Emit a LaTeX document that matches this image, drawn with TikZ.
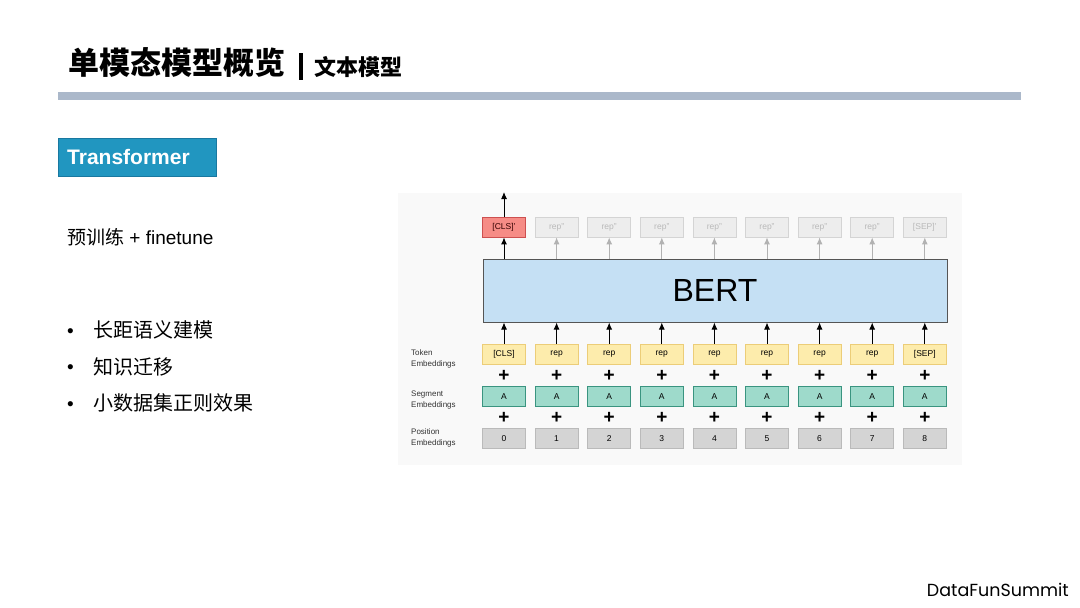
\documentclass[tikz,border=0pt]{standalone}
\usepackage{fontspec}
\setmainfont{Liberation Sans}
\newfontfamily\cjk{Noto Sans CJK SC}
\newfontfamily\brand{Poppins}
\usetikzlibrary{arrows.meta,positioning}

\definecolor{barblue}{RGB}{171,184,202}
\definecolor{tagblue}{RGB}{33,150,192}
\definecolor{tagline}{RGB}{25,120,160}
\definecolor{figback}{RGB}{249,249,249}
\definecolor{tokfill}{RGB}{253,236,172}
\definecolor{tokline}{RGB}{236,205,120}
\definecolor{segfill}{RGB}{158,218,203}
\definecolor{segline}{RGB}{58,148,128}
\definecolor{posfill}{RGB}{212,212,212}
\definecolor{posline}{RGB}{186,186,186}
\definecolor{bertfill}{RGB}{197,224,244}
\definecolor{bertline}{RGB}{85,85,85}
\definecolor{clsfill}{RGB}{246,140,134}
\definecolor{clsline}{RGB}{205,80,80}
\definecolor{repfill}{RGB}{237,237,237}
\definecolor{repline}{RGB}{212,212,212}
\definecolor{reptext}{RGB}{185,185,185}

\tikzset{
  embbox/.style={minimum width=43pt, minimum height=20pt, inner sep=0pt,
    line width=0.8pt, font=\fontsize{8.5}{8.5}\selectfont},
  tokbox/.style={embbox, draw=tokline, fill=tokfill},
  segbox/.style={embbox, draw=segline, fill=segfill},
  posbox/.style={embbox, draw=posline, fill=posfill},
  repbox/.style={embbox, draw=repline, fill=repfill, text=reptext},
  clsbox/.style={embbox, draw=clsline, fill=clsfill, text=black!80!red},
  plussign/.style={inner sep=0pt, font=\bfseries\fontsize{19}{19}\selectfont},
  rowlabel/.style={anchor=west, align=left, inner sep=0pt,
    font=\fontsize{8}{11}\selectfont, text=black!80},
  uparrow/.style={-{Latex[length=7pt,width=6pt]}, line width=1pt},
  greyarrow/.style={uparrow, draw=black!30},
  bodytext/.style={anchor=west, inner sep=0pt, font=\fontsize{19}{19}\selectfont}
}

\begin{document}
\begin{tikzpicture}[x=1pt, y=-1pt]
\useasboundingbox (0,0) rectangle (1080,608);
\fill[white] (0,0) rectangle (1080,608);

% Header
\node[anchor=west, inner sep=0pt, font=\cjk\bfseries\fontsize{31}{31}\selectfont] (title) at (68,63) {单模态模型概览};
\fill[black] (298.5,53) rectangle (302.5,80);
\node[anchor=west, inner sep=0pt, font=\cjk\bfseries\fontsize{22}{22}\selectfont] (subtitle) at (314,66.5) {文本模型};
\fill[barblue] (58,92) rectangle (1021,100);

% Tag
\node[anchor=north west, minimum width=158pt, minimum height=38pt, inner sep=0pt,
  fill=tagblue, draw=tagline, line width=0.6pt] (tag) at (58,138) {};
\node[anchor=west, inner sep=0pt, text=white, font=\bfseries\fontsize{21}{21}\selectfont] (tagtext) at (67,157) {Transformer};

% Left text
\node[bodytext] (pretrain) at (67,237) {{\cjk 预训练} + finetune};
\foreach \txt [count=\k from 0] in {长距语义建模, 知识迁移, 小数据集正则效果} {
  \node[bodytext] (dot\k) at (67,333+36.5*\k) {\textbullet};
  \node[bodytext, font=\cjk\fontsize{20}{20}\selectfont] (item\k) at (93,330+36.5*\k) {\txt};
}

% BERT figure
\fill[figback] (398,193) rectangle (962,465);
\node[minimum width=464pt, minimum height=63pt, inner sep=0pt, fill=bertfill,
  draw=bertline, line width=1pt, font=\fontsize{32}{32}\selectfont] (bert) at (715,290.5) {BERT};

\node[rowlabel] (toklabel) at (411,358.5) {Token\\Embeddings};
\node[rowlabel] (seglabel) at (411,400.5) {Segment\\Embeddings};
\node[rowlabel] (poslabel) at (411,437.5) {Position\\Embeddings};

\foreach \tok/\outp [count=\i from 0] in {{[CLS]}/{[CLS]'}, rep/rep'', rep/rep'', rep/rep'',
    rep/rep'', rep/rep'', rep/rep'', rep/rep'', {[SEP]}/{[SEP]'}} {
  \pgfmathsetmacro{\cx}{504+52.6*\i}
  \node[tokbox] (tok\i) at (\cx,354) {\tok};
  \node[plussign] (plusa\i) at (\cx,375.5) {+};
  \node[segbox] (seg\i) at (\cx,396.5) {A};
  \node[plussign] (plusb\i) at (\cx,417.5) {+};
  \node[posbox] (pos\i) at (\cx,438.5) {\i};
  \ifnum\i=0
    \node[clsbox] (out\i) at (\cx,227) {\outp};
    \draw[uparrow] (out\i.south |- bert.north) -- (out\i.south);
  \else
    \node[repbox] (out\i) at (\cx,227) {\outp};
    \draw[greyarrow] (out\i.south |- bert.north) -- (out\i.south);
  \fi
  \draw[uparrow] (tok\i.north) -- (tok\i.north |- bert.south);
}
\coordinate (clsend) at (504,192);
\draw[uparrow] (out0.north) -- (clsend);

% Footer
\node[anchor=east, inner sep=0pt, font=\brand\fontsize{17.5}{17.5}\selectfont] (brandname) at (1069,590) {DataFunSummit};

\end{tikzpicture}
\end{document}
